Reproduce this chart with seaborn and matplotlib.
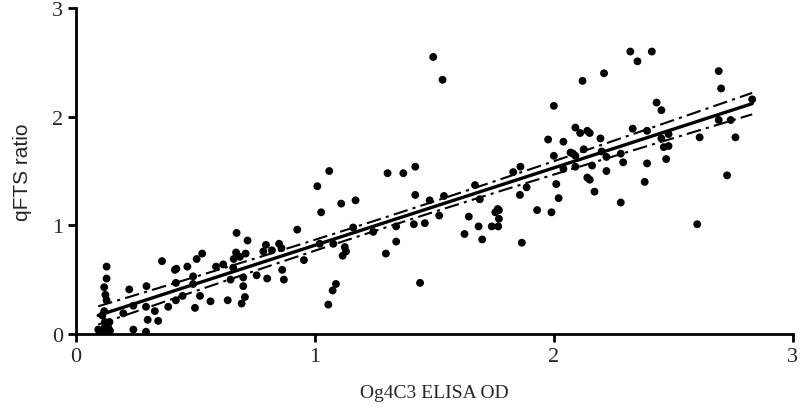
# qFTS ratio vs Og4C3 ELISA OD scatter with linear fit and 95% CI

import numpy as np
import pandas as pd
import matplotlib
matplotlib.use('Agg')
import matplotlib.pyplot as plt
import seaborn as sns

# data
elisa_od = [
    0.128, 0.128, 0.118, 0.123, 0.128, 0.118, 0.110, 0.121, 0.128, 0.135,
    0.093, 0.107, 0.142, 0.100, 0.115, 0.130, 0.140, 0.120,
    0.198, 0.223, 0.240, 0.240, 0.293, 0.293, 0.295, 0.300, 0.330, 0.344,
    0.360, 0.386, 0.414, 0.420, 0.418, 0.418, 0.446, 0.466, 0.490, 0.490,
    0.498, 0.505, 0.528, 0.519, 0.563, 0.586, 0.616, 0.658, 0.635, 0.647,
    0.660, 0.670, 0.672, 0.686, 0.700, 0.700, 0.707, 0.693, 0.718, 0.710,
    0.756, 0.800, 0.863, 0.870, 0.795, 0.784, 0.820, 0.850, 0.860, 0.926,
    0.954, 1.010, 1.060, 1.026, 1.110, 1.170, 1.020, 1.077, 1.125, 1.130,
    1.116, 1.088, 1.074, 1.056, 1.160, 1.244, 1.297,
    1.304, 1.370, 1.420, 1.420, 1.480, 1.540, 1.340, 1.340, 1.440, 1.414,
    1.460, 1.520, 1.495, 1.534, 1.670, 1.690, 1.644, 1.626, 1.685, 1.700,
    1.740, 1.755, 1.770, 1.765, 1.770, 1.767,
    1.830, 1.860, 1.886, 1.858, 1.930, 1.866, 1.976, 1.990,
    2.000, 2.120, 2.210, 2.320, 2.350, 2.410, 2.430, 2.450, 2.090, 2.110,
    2.140, 2.150, 2.040, 2.195, 2.330, 2.390, 2.450, 2.480, 2.460, 2.480,
    2.470, 2.000, 2.070, 2.080, 2.090, 2.125, 2.200, 2.220, 2.280, 2.290,
    2.390, 2.040, 2.090, 2.160, 2.220, 2.010, 2.020, 2.140, 2.150, 2.170,
    2.280, 2.380, 2.690, 2.700, 2.830, 2.690, 2.740, 2.610, 2.760, 2.725,
    2.600,
]
qfts_ratio = [
    0.62, 0.51, 0.43, 0.36, 0.31, 0.21, 0.17, 0.11, 0.08, 0.06,
    0.04, 0.03, 0.03, 0.01, 0.00, 0.00, 0.11, 0.06,
    0.19, 0.41, 0.26, 0.04, 0.02, 0.25, 0.44, 0.13, 0.21, 0.12,
    0.67, 0.25, 0.59, 0.60, 0.47, 0.31, 0.35, 0.62, 0.53, 0.46,
    0.24, 0.69, 0.74, 0.35, 0.30, 0.62, 0.64, 0.61, 0.31, 0.50,
    0.69, 0.75, 0.93, 0.71, 0.52, 0.44, 0.34, 0.28, 0.86, 0.74,
    0.54, 0.51, 0.59, 0.50, 0.82, 0.76, 0.77, 0.83, 0.79, 0.96,
    0.68, 1.36, 1.50, 1.12, 1.20, 1.23, 0.83, 0.83, 0.80, 0.76,
    0.72, 0.46, 0.40, 0.27, 0.98, 0.94, 0.74,
    1.48, 1.48, 1.54, 1.28, 1.23, 1.27, 0.99, 0.85, 0.47, 1.01,
    1.02, 1.09, 2.55, 2.34, 1.37, 1.24, 1.08, 0.92, 0.99, 0.87,
    0.99, 1.12, 1.14, 1.15, 1.06, 0.99,
    1.49, 1.54, 1.35, 1.28, 1.14, 0.84, 1.79, 1.12,
    2.10, 2.33, 2.40, 2.60, 2.51, 2.60, 2.13, 2.06, 1.90, 1.85,
    1.87, 1.85, 1.77, 1.80, 1.89, 1.87, 1.80, 1.84, 1.72, 1.73,
    1.61, 1.64, 1.67, 1.66, 1.64, 1.70, 1.68, 1.63, 1.66, 1.58,
    1.57, 1.52, 1.54, 1.55, 1.50, 1.38, 1.25, 1.44, 1.42, 1.31,
    1.21, 1.40, 2.42, 2.26, 2.16, 1.97, 1.97, 1.81, 1.81, 1.46,
    1.01,
]

df = pd.DataFrame({'od': elisa_od, 'ratio': qfts_ratio})

# least squares line and 95% confidence band of the mean
slope, intercept = np.polyfit(df['od'], df['ratio'], 1)
n = len(df)
resid = df['ratio'] - (intercept + slope * df['od'])
s = np.sqrt((resid ** 2).sum() / (n - 2))
xm = df['od'].mean()
sxx = ((df['od'] - xm) ** 2).sum()
xfit = np.linspace(df['od'].min(), df['od'].max(), 100)
yfit = intercept + slope * xfit
half = 1.97 * s * np.sqrt(1 / n + (xfit - xm) ** 2 / sxx)
fit = pd.DataFrame({'od': xfit, 'fit': yfit, 'lo': yfit - half, 'hi': yfit + half})

sns.set_style('ticks')

fig = plt.figure(figsize=(8, 4.14), dpi=100)
ax = fig.add_axes([0.095, 0.191, 0.896, 0.787])

sns.scatterplot(data=df, x='od', y='ratio', color='black', s=32,
                edgecolor='none', ax=ax, zorder=3)
sns.lineplot(data=fit, x='od', y='fit', color='black', lw=2.4, ax=ax)
dashdot = (0, (7, 2.5, 1.5, 2.5))
ax.plot(fit['od'], fit['hi'], color='black', lw=1.5, ls=dashdot)
ax.plot(fit['od'], fit['lo'], color='black', lw=1.5, ls=dashdot)

ax.set_xlim(0, 3)
ax.set_ylim(0, 3)
ax.set_xticks([0, 1, 2, 3])
ax.set_yticks([0, 1, 2, 3])
sns.despine(ax=ax)
for side in ['left', 'bottom']:
    ax.spines[side].set_linewidth(2)
    ax.spines[side].set_color('black')
ax.tick_params(length=6, width=2, color='black', labelsize=16)
for lab in ax.get_xticklabels() + ax.get_yticklabels():
    lab.set_family('Liberation Serif')

ax.set_xlabel('Og4C3 ELISA OD', family='Liberation Serif', fontsize=14, labelpad=13)
ax.set_ylabel('qFTS ratio', family='Liberation Sans', fontsize=15, labelpad=14)

fig.savefig('out.png', dpi=100)
